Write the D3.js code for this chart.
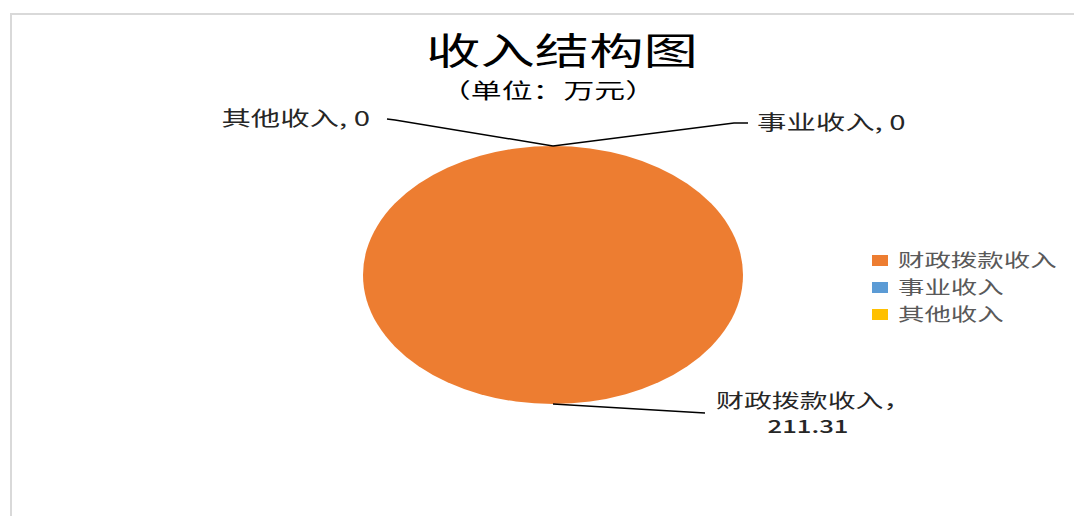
<!DOCTYPE html>
<html><head><meta charset="utf-8">
<script src="https://cdn.jsdelivr.net/npm/d3@7"></script>
<style>body{margin:0;background:#fff;overflow:hidden}</style>
</head><body>
<script>
// ---- data ----
const categories = ["财政拨款收入", "事业收入", "其他收入"];
const values = [211.31, 0, 0];
const valueLabels = ["211.31", "0", "0"];
const colors = ["#ED7D31", "#5B9BD5", "#FFC000"];
const titleText = "收入结构图";
const subtitleText = "（单位：万元）";

// ---- layout ----
const W = 1074, H = 516;
const sx = 1.47; // horizontal stretch of the original picture
const cx = 553, cy = 275, rx = 190, ry = 129;
const font = "'Noto Sans CJK SC', 'Noto Sans', sans-serif";

const svg = d3.select("body").append("svg").attr("width", W).attr("height", H);

// frame lines
svg.append("line").attr("x1", 11).attr("x2", W).attr("y1", 14).attr("y2", 14)
  .attr("stroke", "#d9d9d9").attr("stroke-width", 2);
svg.append("line").attr("x1", 11).attr("x2", 11).attr("y1", 13).attr("y2", H)
  .attr("stroke", "#d9d9d9").attr("stroke-width", 2);

function stretchedText(x, y, txt, size, anchor, color, weight) {
  const g = svg.append("g").attr("transform", `translate(${x},${y}) scale(${sx},1)`);
  return g.append("text").text(txt).attr("text-anchor", anchor)
    .attr("font-family", font).attr("font-size", size)
    .attr("font-weight", weight || "normal").attr("fill", color);
}

stretchedText(562, 65, titleText, 37, "middle", "#000", "normal");
stretchedText(548, 98, subtitleText, 21, "middle", "#000", "normal");

// ---- pie ----
const data = categories.map((c, i) => ({ cat: c, value: values[i], label: valueLabels[i], color: colors[i] }));
const pie = d3.pie().sort(null).value(d => d.value);
const arcs = pie(data);
const arc = d3.arc().innerRadius(0).outerRadius(rx);
const color = d3.scaleOrdinal().domain(categories).range(colors);

const pg = svg.append("g").attr("transform", `translate(${cx},${cy}) scale(1,${ry / rx})`);
pg.selectAll("path").data(arcs).join("path")
  .attr("d", arc).attr("fill", d => color(d.data.cat));

// anchor point on ellipse edge at slice mid angle
function anchor(d) {
  const a = (d.startAngle + d.endAngle) / 2;
  return [cx + rx * Math.sin(a), cy - ry * Math.cos(a)];
}

// label layout offsets (relative to anchor): elbow, end, text position
const labelLayout = {
  "财政拨款收入": { elbow: [135, 8], end: [152, 9], text: [163, 0], anchor: "start", twoLine: true },
  "事业收入": { elbow: [181, -23], end: [195, -23], text: [204, 0], anchor: "start" },
  "其他收入": { elbow: [-158, -26], end: [-166, -27], text: [-183, 0], anchor: "end" }
};

arcs.forEach(d => {
  const p = anchor(d);
  const L = labelLayout[d.data.cat];
  const e1 = [p[0] + L.elbow[0], p[1] + L.elbow[1]];
  const e2 = [p[0] + L.end[0], p[1] + L.end[1]];
  svg.append("path").attr("d", d3.line()([p, e1, e2]))
    .attr("fill", "none").attr("stroke", "#000").attr("stroke-width", 1.5);
  if (L.twoLine) {
    stretchedText(p[0] + L.text[0], e2[1] - 5, d.data.cat + "，", 19, "start", "#262626");
    stretchedText(p[0] + L.text[0] + 92, e2[1] + 20, d.data.label, 17.5, "middle", "#262626", "500");
  } else {
    stretchedText(p[0] + L.text[0], e2[1] + 7, d.data.cat + ", " + d.data.label, 20, L.anchor, "#262626");
  }
});

// ---- legend ----
const lg = svg.append("g");
categories.forEach((c, i) => {
  const y = 261 + i * 27;
  lg.append("rect").attr("x", 872).attr("y", y - 6).attr("width", 16).attr("height", 11)
    .attr("fill", color(c));
  stretchedText(898, y + 6, c, 18, "start", "#595959");
});
</script>
</body></html>
